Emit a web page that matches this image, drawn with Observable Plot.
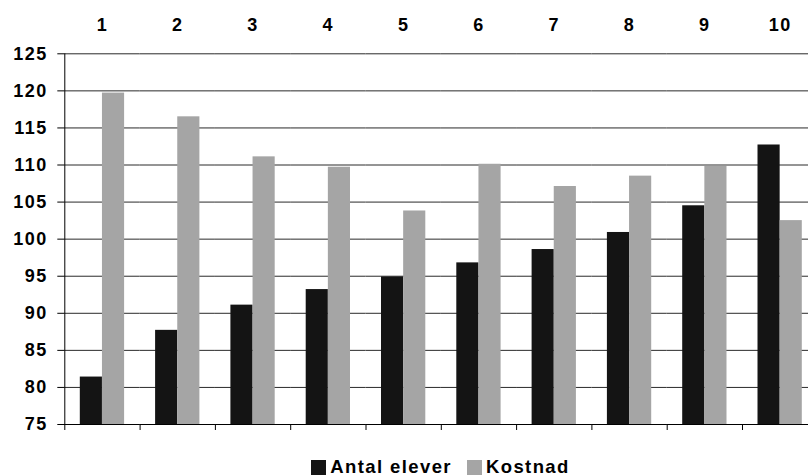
<!DOCTYPE html>
<html>
<head>
<meta charset="utf-8">
<script src="https://cdn.jsdelivr.net/npm/d3@7"></script>
<script src="https://cdn.jsdelivr.net/npm/@observablehq/plot@0.6"></script>
<style>
  html, body { margin: 0; padding: 0; background: #fff; overflow: hidden; }
  #chart { width: 808px; }
  #legend { width: 753px; padding-left: 64px; padding-top: 12px; }
  #legend .lg-swatches-wrap { display: flex; justify-content: center; align-items: center; min-height: 30px; margin: 0; }
  #legend .lg-swatches { font-family: "Liberation Sans", Arial, sans-serif; font-size: 18.5px; font-weight: bold; letter-spacing: 1.4px; color: #000; margin: 0; }
  #legend .lg-swatch { margin-right: 15px; }
  #legend .lg-swatch:last-child { margin-right: 0; }
  #legend .lg-swatch > svg { margin-right: 4px; }
</style>
</head>
<body>
<div id="chart"></div>
<div id="legend"></div>
<script>
// Grupper 1–10, två serier per grupp
const categories = ["1", "2", "3", "4", "5", "6", "7", "8", "9", "10"];
const seriesNames = ["Antal elever", "Kostnad"];
const seriesColors = ["#141414", "#a5a5a5"];
const antalElever = [81.4, 87.7, 91.1, 93.2, 94.9, 96.8, 98.6, 100.9, 104.5, 112.7];
const kostnad = [119.7, 116.5, 111.1, 109.7, 103.8, 110.1, 107.1, 108.5, 109.8, 102.5];
const yTicks = [75, 80, 85, 90, 95, 100, 105, 110, 115, 120, 125];

// long format table for the grouped bars
const rows = categories.flatMap((c, i) => [
  {grupp: c, serie: seriesNames[0], varde: antalElever[i]},
  {grupp: c, serie: seriesNames[1], varde: kostnad[i]}
]);

const width = 808;
const marginLeft = 64.3;
const marginRight = -9.3;   // last group runs past the right edge
const step = (width - marginLeft - marginRight) / categories.length;

const chart = Plot.plot({
  width,
  height: 440,
  marginLeft,
  marginRight,
  marginTop: 53.3,
  marginBottom: 16,
  style: {
    fontFamily: "'Liberation Sans', Arial, sans-serif",
    fontSize: "18px",
    fontWeight: "bold",
    letterSpacing: "1.5px",
    color: "#000",
    background: "#fff",
    overflow: "hidden"
  },
  fx: {domain: categories, paddingInner: 0, paddingOuter: 0, round: false, label: null},
  x: {domain: seriesNames, paddingInner: 0, paddingOuter: 0.7, round: false, axis: null},
  y: {domain: [yTicks[0], yTicks[yTicks.length - 1]], label: null},
  color: {domain: seriesNames, range: seriesColors},
  marks: [
    Plot.gridY(yTicks, {stroke: "#2a2a2a", strokeOpacity: 1}),
    Plot.barY(rows, {fx: "grupp", x: "serie", y1: yTicks[0], y2: "varde", fill: "serie"}),
    Plot.ruleY([yTicks[0]], {stroke: "#000"}),
    Plot.frame({anchor: "left", facetAnchor: "left", stroke: "#000"}),
    Plot.axisY({ticks: yTicks, tickSize: 7, tickPadding: 10, label: null}),
    Plot.axisFx({anchor: "top", tickSize: 0, tickPadding: 23, label: null}),
    Plot.axisFx({anchor: "bottom", tickSize: 6, tickFormat: () => "", label: null, dx: -step / 2})
  ]
});
document.getElementById("chart").append(chart);

const legend = Plot.legend({
  color: {domain: seriesNames, range: seriesColors},
  swatchSize: 15,
  className: "lg"
});
document.getElementById("legend").append(legend);
</script>
</body>
</html>
